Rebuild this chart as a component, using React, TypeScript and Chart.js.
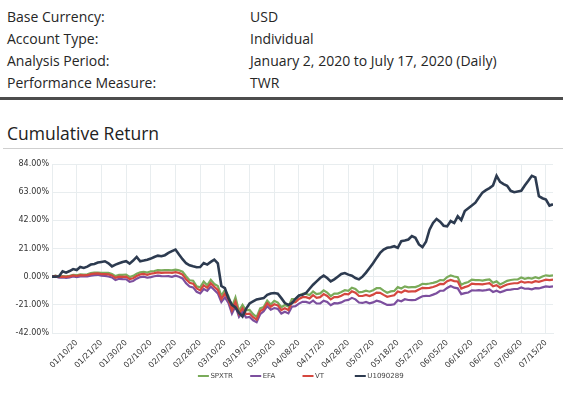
import React, { useEffect, useRef } from 'react';
import { Chart, registerables } from 'chart.js';

Chart.register(...registerables);

const infoLabels = ['Base Currency:', 'Account Type:', 'Analysis Period:', 'Performance Measure:'];
const infoValues = ['USD', 'Individual', 'January 2, 2020 to July 17, 2020 (Daily)', 'TWR'];

const seriesNames = ['SPXTR', 'EFA', 'VT', 'U1090289'];
const seriesColors = ['#7aab5a', '#7c4f9e', '#d5473f', '#2d3b50'];

const tickLabels = [
  '01/10/20', '01/21/20', '01/30/20', '02/10/20', '02/19/20', '02/28/20', '03/10/20',
  '03/19/20', '03/30/20', '04/08/20', '04/17/20', '04/28/20', '05/07/20', '05/18/20',
  '05/27/20', '06/05/20', '06/16/20', '06/25/20', '07/06/20', '07/15/20',
];
const yTicks = [-42, -21, 0, 21, 42, 63, 84];

// daily (weekday) cumulative returns in %, index 0 = start of period
const spxtr = [
  0, 0.8, 0.1, 0.5, 0.2, 0.7, 1.4, 1.1, 1.8, 1.6,
  1.8, 2.7, 3.1, 3.1, 2.8, 2.8, 2.9, 2.0, 0.4, 1.4,
  1.3, 1.6, -0.2, 0.6, 2.1, 3.3, 3.6, 3.1, 4.0, 4.2,
  4.9, 4.7, 4.9, 4.9, 4.7, 5.2, 4.8, 3.7, 0.3, -2.7,
  -3.0, -7.2, -8.0, -3.7, -6.4, -2.3, -5.5, -7.0, -14.2, -9.9,
  -14.4, -22.5, -15.4, -25.5, -21.0, -25.1, -24.8, -28.0, -30.1, -23.6,
  -22.7, -17.9, -20.7, -18.0, -19.3, -22.8, -21.1, -22.3, -16.7, -16.8,
  -14.1, -12.9, -12.9, -13.7, -11.1, -13.0, -12.5, -10.2, -11.8, -14.5,
  -12.6, -12.6, -11.4, -10.1, -10.6, -8.2, -9.1, -11.7, -11.3, -10.5,
  -11.2, -10.1, -8.6, -8.6, -10.4, -12.0, -11.0, -10.6, -7.8, -8.8,
  -7.2, -8.0, -7.8, -7.8, -6.7, -5.3, -5.5, -5.1, -4.6, -3.9,
  -2.5, -2.8, -0.3, 0.9, 0.1, -0.4, -6.1, -4.8, -4.0, -2.2,
  -2.6, -2.5, -3.0, -2.4, -2.0, -4.5, -3.5, -5.8, -4.5, -3.1,
  -2.5, -2.1, -2.1, -0.6, -1.6, -0.9, -1.4, -0.4, -1.2, 0.1,
  1.0, 0.6, 1.0,
];

const efa = [
  0, 0.2, -0.8, -0.6, -0.9, -0.6, 0.1, -0.3, 0.2, 0.3,
  0.2, 0.8, 1.2, 1.4, 0.7, 0.6, 0.1, -0.6, -2.5, -1.6,
  -1.8, -1.9, -3.8, -3.2, -1.5, -0.3, 0.0, -0.8, -0.3, 0.3,
  0.8, 0.4, 0.3, 0.4, -0.1, 0.7, 0.0, -1.3, -5.0, -7.3,
  -8.0, -11.3, -12.5, -9.2, -10.6, -7.4, -10.0, -12.5, -19.0, -15.5,
  -19.5, -27.5, -22.0, -30.0, -26.2, -30.5, -30.0, -32.5, -34.0, -28.0,
  -25.8, -22.0, -24.6, -23.4, -24.0, -27.5, -26.2, -27.4, -22.4, -22.0,
  -20.1, -18.8, -18.8, -19.7, -17.8, -20.0, -19.9, -17.9, -18.8, -21.3,
  -19.8, -19.9, -19.2, -17.8, -17.3, -15.8, -16.9, -19.3, -19.6, -18.9,
  -19.9, -19.2, -17.9, -18.6, -19.8, -21.1, -21.0, -20.6, -17.6, -18.3,
  -16.8, -17.4, -17.5, -17.4, -15.9, -14.6, -14.3, -14.4, -13.4, -12.3,
  -10.5, -10.4, -8.4, -7.0, -8.2, -8.7, -13.0, -12.3, -11.8, -10.2,
  -10.3, -10.1, -10.4, -10.0, -9.5, -11.4, -10.5, -11.6, -10.8, -9.8,
  -9.6, -9.2, -9.2, -8.1, -9.0, -8.9, -9.4, -8.6, -8.8, -8.0,
  -7.3, -7.6, -7.3,
];

const vt = [
  0, 0.6, -0.2, 0.1, -0.2, 0.2, 0.9, 0.5, 1.1, 1.0,
  1.1, 1.9, 2.3, 2.4, 1.9, 1.9, 1.7, 0.9, -0.9, 0.0,
  -0.1, 0.0, -1.8, -1.2, 0.5, 1.7, 2.0, 1.4, 2.2, 2.6,
  3.2, 2.9, 3.0, 3.1, 2.8, 3.4, 2.8, 1.6, -2.0, -4.6,
  -5.2, -8.8, -10.2, -6.4, -8.3, -4.9, -7.6, -9.8, -16.6, -12.6,
  -16.9, -25.0, -18.8, -27.8, -23.6, -27.9, -27.5, -30.2, -32.0, -25.7,
  -24.0, -19.8, -22.4, -20.6, -21.4, -24.9, -23.6, -24.8, -19.3, -19.0,
  -16.6, -15.3, -15.3, -16.2, -13.8, -15.8, -15.3, -13.0, -14.4, -17.0,
  -15.3, -15.2, -14.2, -12.8, -13.1, -10.9, -12.0, -14.4, -14.4, -13.6,
  -14.4, -13.4, -11.9, -12.1, -13.6, -15.0, -14.4, -13.9, -11.0, -11.9,
  -10.3, -11.1, -11.0, -10.9, -9.5, -8.3, -8.5, -8.3, -7.7, -6.8,
  -5.4, -5.6, -3.4, -2.5, -3.3, -3.6, -8.9, -7.8, -7.0, -5.2,
  -5.5, -5.5, -5.8, -5.3, -4.8, -7.1, -6.3, -8.2, -7.0, -5.8,
  -5.3, -4.9, -4.9, -3.6, -4.5, -4.0, -4.4, -3.4, -3.9, -3.0,
  -2.2, -2.6, -2.2,
];

const u1090289 = [
  0, 0, 0.3, 4.0, 3.0, 4.2, 5.7, 5.0, 7.2, 6.5,
  7.5, 9.0, 9.5, 10.5, 11.0, 11.5, 10.0, 7.7, 9.0, 10.0,
  11.0, 11.5, 9.7, 12.0, 14.7, 11.5, 12.0, 12.7, 13.5, 14.7,
  15.7, 15.2, 16.0, 17.7, 19.0, 20.2, 16.5, 13.0, 10.0, 8.5,
  7.7, 7.0, 7.2, 10.2, 9.0, 11.0, 12.7, 10.0, -7.0, -8.5,
  -16.0, -21.0, -23.0, -27.0, -29.7, -24.0, -20.0, -18.5, -17.0, -16.5,
  -16.0, -13.5, -12.5, -12.2, -12.7, -16.0, -19.7, -21.0, -19.7, -16.5,
  -14.0, -13.5, -12.2, -9.0, -6.0, -3.5, -1.0, 0.8, -1.0, -3.5,
  -2.0, 0.0, 2.0, 2.7, 1.5, 0.7, -1.0, -2.0, 0.0, 3.0,
  6.5, 10.0, 14.0, 17.7, 20.2, 21.5, 22.0, 22.7, 21.5, 26.5,
  27.0, 27.7, 30.2, 29.0, 24.0, 22.0, 26.0, 35.0, 40.0, 43.0,
  41.0, 38.0, 37.5, 41.5, 40.0, 45.0, 42.2, 49.0, 51.0, 53.0,
  55.2, 59.0, 62.7, 64.5, 66.0, 68.0, 75.2, 70.7, 69.0, 67.7,
  64.0, 63.0, 63.5, 64.0, 68.0, 71.5, 75.2, 74.0, 60.0, 58.5,
  57.5, 53.0, 54.0,
];

const seriesValues = [spxtr, efa, vt, u1090289];

const FONT = '"DejaVu Sans", sans-serif';

export default function App() {
  const ref = useRef<HTMLCanvasElement>(null);

  useEffect(() => {
    if (!ref.current) return;
    const legendPlugin = {
      id: 'fixedLegend',
      afterDraw(chart: any) {
        const ctx = chart.ctx;
        const area = chart.chartArea;
        const n = chart.data.datasets.length;
        const colW = 52.3;
        const startX = (area.left + area.right) / 2 - (colW * n) / 2;
        const y = chart.height - 19;
        ctx.save();
        ctx.font = '7px ' + FONT;
        ctx.textBaseline = 'middle';
        ctx.textAlign = 'left';
        chart.data.datasets.forEach((ds: any, i: number) => {
          const x0 = startX + colW * i;
          ctx.strokeStyle = ds.borderColor;
          ctx.lineWidth = 2;
          ctx.beginPath();
          ctx.moveTo(x0, y);
          ctx.lineTo(x0 + 11, y);
          ctx.stroke();
          ctx.fillStyle = '#444';
          ctx.fillText(ds.label, x0 + 12.5, y);
        });
        ctx.restore();
      },
    };

    const chart = new Chart(ref.current, {
      type: 'line',
      data: {
        datasets: seriesNames.map((name, i) => ({
          label: name,
          data: seriesValues[i].map((v, k) => ({ x: k, y: v })),
          borderColor: seriesColors[i],
          backgroundColor: seriesColors[i],
          borderWidth: i === 3 ? 2.6 : 2.2,
          pointRadius: 0,
          tension: 0,
          order: i === 3 ? 0 : 4 - i,
        })),
      },
      options: {
        animation: false,
        responsive: false,
        maintainAspectRatio: false,
        layout: { padding: { left: 0, right: 10, top: 12, bottom: 0 } },
        plugins: { legend: { display: false }, tooltip: { enabled: false }, title: { display: false } },
        scales: {
          x: {
            type: 'linear',
            min: 0,
            max: seriesValues[0].length - 1,
            grid: { color: '#e8edef', drawTicks: false },
            border: { color: '#e8edef' },
            ticks: {
              stepSize: 7,
              includeBounds: false,
              autoSkip: false,
              minRotation: 45,
              maxRotation: 45,
              padding: 5,
              color: '#333',
              font: { family: FONT, size: 8 },
              callback: (v: any) => {
                const k = Math.round(Number(v) / 7) - 1;
                return k >= 0 && k < tickLabels.length ? tickLabels[k] : null;
              },
            },
            afterFit: (s: any) => { s.height = 62; },
          },
          y: {
            min: yTicks[0],
            max: yTicks[yTicks.length - 1],
            grid: { color: '#e8edef', drawTicks: false },
            border: { color: '#e8edef' },
            ticks: {
              stepSize: 21,
              padding: 3,
              color: '#333',
              font: { family: FONT, size: 8 },
              callback: (v: any) => Number(v).toFixed(2) + '%',
            },
            afterFit: (s: any) => { s.width = 52; },
          },
        },
      },
      plugins: [legendPlugin],
    });
    return () => chart.destroy();
  }, []);

  const textStyle: React.CSSProperties = {
    position: 'absolute',
    fontFamily: '"Open Sans", sans-serif',
    fontSize: 14,
    lineHeight: '22px',
    color: '#262626',
    whiteSpace: 'nowrap',
  };

  return (
    <div style={{ position: 'absolute', left: 0, top: 0, width: 563, height: 395, overflow: 'hidden', background: '#fff' }}>
      {infoLabels.map((t, i) => (
        <div key={'l' + i} style={{ ...textStyle, left: 7, top: 6 + 22 * i }}>{t}</div>
      ))}
      {infoValues.map((t, i) => (
        <div key={'v' + i} style={{ ...textStyle, left: 250, top: 6 + 22 * i }}>{t}</div>
      ))}
      <div style={{ position: 'absolute', left: 0, top: 97, width: 563, height: 3, background: '#4d4d4d' }} />
      <div style={{ ...textStyle, left: 7, top: 121, fontSize: 17.5, lineHeight: '24px', color: '#222' }}>Cumulative Return</div>
      <div style={{ position: 'absolute', left: 3, top: 148, width: 560, height: 1, background: '#cfcfcf' }} />
      <canvas ref={ref} width={563} height={243} style={{ position: 'absolute', left: 0, top: 152, width: 563, height: 243 }} />
    </div>
  );
}
